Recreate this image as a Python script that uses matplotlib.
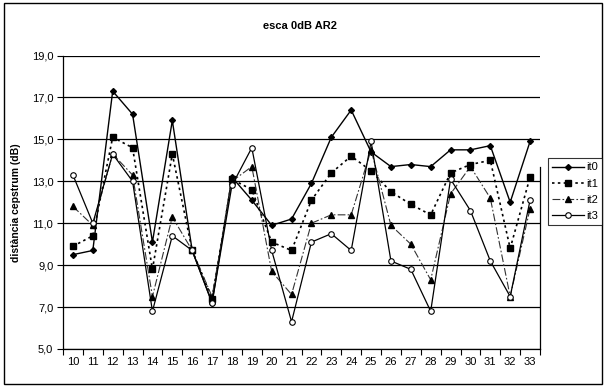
import matplotlib.pyplot as plt
from matplotlib.patches import Rectangle
from matplotlib.ticker import FuncFormatter

plt.rcParams['font.family'] = ['Liberation Sans', 'DejaVu Sans']

# frames 10..33
frames = list(range(10, 34))
it0 = [9.5, 9.7, 17.3, 16.2, 10.1, 15.9, 9.7, 7.2, 13.2, 12.1, 10.9, 11.2,
       12.9, 15.1, 16.4, 14.4, 13.7, 13.8, 13.7, 14.5, 14.5, 14.7, 12.0, 14.9]
it1 = [9.9, 10.4, 15.1, 14.6, 8.8, 14.3, 9.7, 7.4, 13.1, 12.6, 10.1, 9.7,
       12.1, 13.4, 14.2, 13.5, 12.5, 11.9, 11.4, 13.4, 13.8, 14.0, 9.8, 13.2]
it2 = [11.8, 10.9, 14.3, 13.3, 7.5, 11.3, 9.7, 7.5, 13.0, 13.7, 8.7, 7.6,
       11.0, 11.4, 11.4, 14.5, 10.9, 10.0, 8.3, 12.4, 13.7, 12.2, 7.5, 11.7]
it3 = [13.3, 11.0, 14.3, 13.0, 6.8, 10.4, 9.7, 7.2, 12.8, 14.6, 9.7, 6.3,
       10.1, 10.5, 9.7, 14.9, 9.2, 8.8, 6.8, 13.1, 11.6, 9.2, 7.5, 12.1]
y_ticks = [5, 7, 9, 11, 13, 15, 17, 19]

fig = plt.figure(figsize=(6.04, 3.87), dpi=100)
ax = fig.add_axes([63 / 604, 1 - 349 / 387, 477 / 604, (349 - 55.5) / 387])

ax.plot(frames, it0, color='black', lw=1.0, marker='D', ms=3.0, label='it0')
ax.plot(frames, it1, color='black', lw=1.2, ls=(0, (1.5, 2)), marker='s', ms=4.5, label='it1')
ax.plot(frames, it2, color='#333333', lw=0.8, ls=(0, (7, 2, 1.5, 2)), marker='^', ms=4.5,
        markerfacecolor='black', markeredgecolor='black', label='it2')
ax.plot(frames, it3, color='black', lw=0.9, marker='o', ms=4, markerfacecolor='white',
        markeredgewidth=0.8, label='it3')

ax.set_xlim(9.5, 33.5)
ax.set_ylim(5, 19)
ax.set_yticks(y_ticks)
ax.yaxis.set_major_formatter(FuncFormatter(lambda v, p: f'{v:.1f}'.replace('.', ',')))
ax.grid(axis='y', color='black', lw=0.9)
ax.set_axisbelow(True)

# category ticks between frames, labels on the frames
ax.set_xticks([f - 0.5 for f in frames] + [33.5])
ax.set_xticklabels([])
ax.set_xticks(frames, minor=True)
ax.set_xticklabels([str(f) for f in frames], minor=True)
ax.tick_params(axis='x', which='major', length=4, width=0.8, direction='out')
ax.tick_params(axis='x', which='minor', length=0, pad=6, labelsize=8)
ax.tick_params(axis='y', length=4, width=0.8, direction='out', labelsize=8, pad=3)

ax.spines['top'].set_visible(False)
ax.spines['right'].set_bounds(5, 13.7)
for s in ['left', 'bottom', 'right']:
    ax.spines[s].set_linewidth(0.9)

ax.set_ylabel('distància cepstrum (dB)', fontsize=7.5, fontweight='bold', labelpad=8)
fig.text(0.497, 1 - 26 / 387, 'esca 0dB AR2', ha='center', va='center',
         fontsize=8, fontweight='bold')

leg = fig.legend(loc='upper left', bbox_to_anchor=(548 / 604, 1 - 158 / 387),
                 frameon=True, fancybox=False, edgecolor='black', fontsize=8,
                 handlelength=2.8, handletextpad=0.2, borderpad=0.4,
                 labelspacing=0.55, borderaxespad=0)
leg.get_frame().set_linewidth(0.8)

fig.patches.append(Rectangle((4 / 604, 3 / 387), 598 / 604, 381 / 387,
                             transform=fig.transFigure, fill=False,
                             edgecolor='black', lw=1.0))

fig.savefig('out.png', dpi=100)
